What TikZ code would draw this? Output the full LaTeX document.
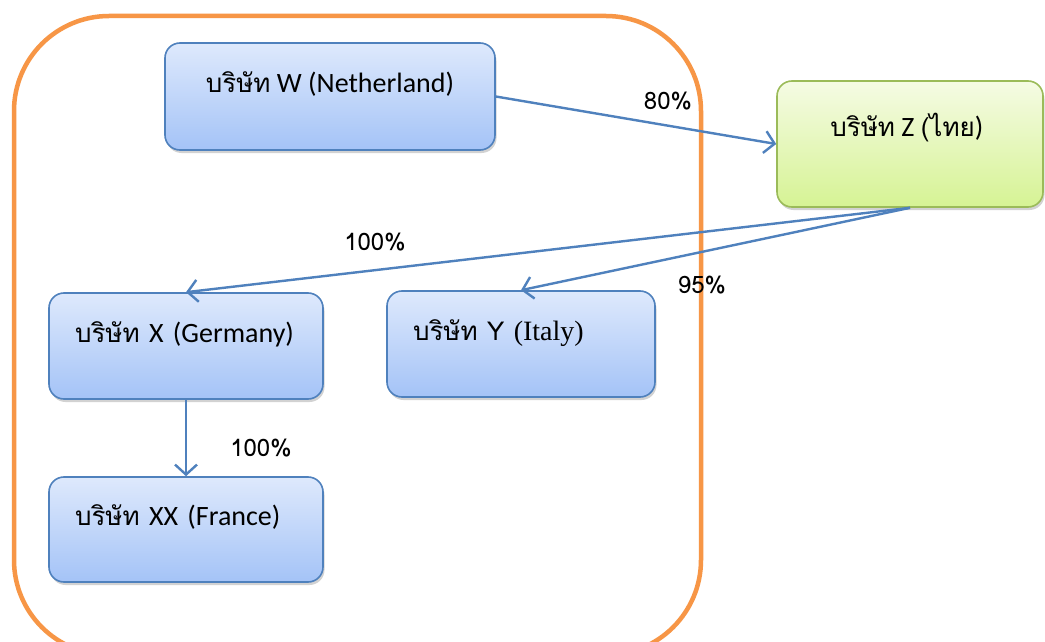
\documentclass[tikz,border=0pt]{standalone}
\usepackage{fontspec}
\setmainfont{Carlito}
\newfontfamily\thai[Script=Thai]{Loma}
\newfontfamily\tnr{Liberation Serif}
\usetikzlibrary{arrows.meta,shadows}
\definecolor{boxblue}{RGB}{79,129,189}
\definecolor{bluetop}{RGB}{222,233,252}
\definecolor{bluebot}{RGB}{164,195,247}
\definecolor{boxgreen}{RGB}{155,187,89}
\definecolor{greentop}{RGB}{245,251,228}
\definecolor{greenbot}{RGB}{214,243,148}
\definecolor{frameorange}{RGB}{247,150,70}
\tikzset{
  company/.style={draw=boxblue, line width=1.6pt, rounded corners=15pt,
    top color=bluetop, bottom color=bluebot,
    drop shadow={shadow xshift=1.5pt, shadow yshift=-3pt, opacity=0.35},
    font=\fontsize{28}{32}\selectfont, text height=20pt, text depth=28pt,
    inner ysep=0pt},
  home/.style={company, draw=boxgreen, top color=greentop, bottom color=greenbot,
    text depth=35pt},
  lefttext/.style={inner xsep=26pt, align=left},
  share/.style={draw=boxblue, line width=2.4pt,
    -{Straight Barb[length=10pt,width=22pt,line width=2.4pt]}},
  pct/.style={font=\thai\fontsize{24}{28}\selectfont, inner sep=0pt}
}
\begin{document}
\begin{tikzpicture}[x=1pt,y=-1pt]
\useasboundingbox (0,0) rectangle (1045,642);
\fill[white] (0,0) rectangle (1045,642);
% group boundary, running off the bottom edge
\begin{scope}
  \clip (0,0) rectangle (1045,642);
  \draw[frameorange, line width=4.5pt, rounded corners=95pt] (14,16) rectangle (701,655);
\end{scope}

\node[company, minimum width=330pt, minimum height=107pt, align=center] (W) at (330,96.5)
  {{\thai\fontsize{26}{30}\selectfont บริษัท} W (Netherland)};
\node[home, minimum width=266pt, minimum height=126pt, align=center] (Z) at (910,144)
  {{\thai\fontsize{26}{30}\selectfont บริษัท} Z {\thai\fontsize{26}{30}\selectfont (ไทย}) };
\node[company, lefttext, minimum width=274pt, minimum height=106pt, text width=222pt] (X) at (186,346)
  {\mbox{{\thai\fontsize{26}{30}\selectfont บริษัท} X (Germany)}};
\node[company, lefttext, minimum width=268pt, minimum height=106pt, text width=216pt] (Y) at (521,344)
  {\mbox{{\thai\fontsize{26}{30}\selectfont บริษัท Y }{\tnr (Italy)}}};
\node[company, lefttext, minimum width=274pt, minimum height=105pt, text width=222pt] (XX) at (186,529.5)
  {\mbox{{\thai\fontsize{26}{30}\selectfont บริษัท} XX (France)}};

\draw[share] (W.east) -- (Z.west);
\draw[share] (Z.south) -- (X.north);
\draw[share] (Z.south) -- (Y.north);
\draw[share] (X.south) -- (XX.north);

\node[pct] (p1) at (668,101) {80\%};
\node[pct] (p2) at (375,242) {100\%};
\node[pct] (p3) at (702,285) {95\%};
\node[pct] (p4) at (261,448) {100\%};
\end{tikzpicture}
\end{document}
